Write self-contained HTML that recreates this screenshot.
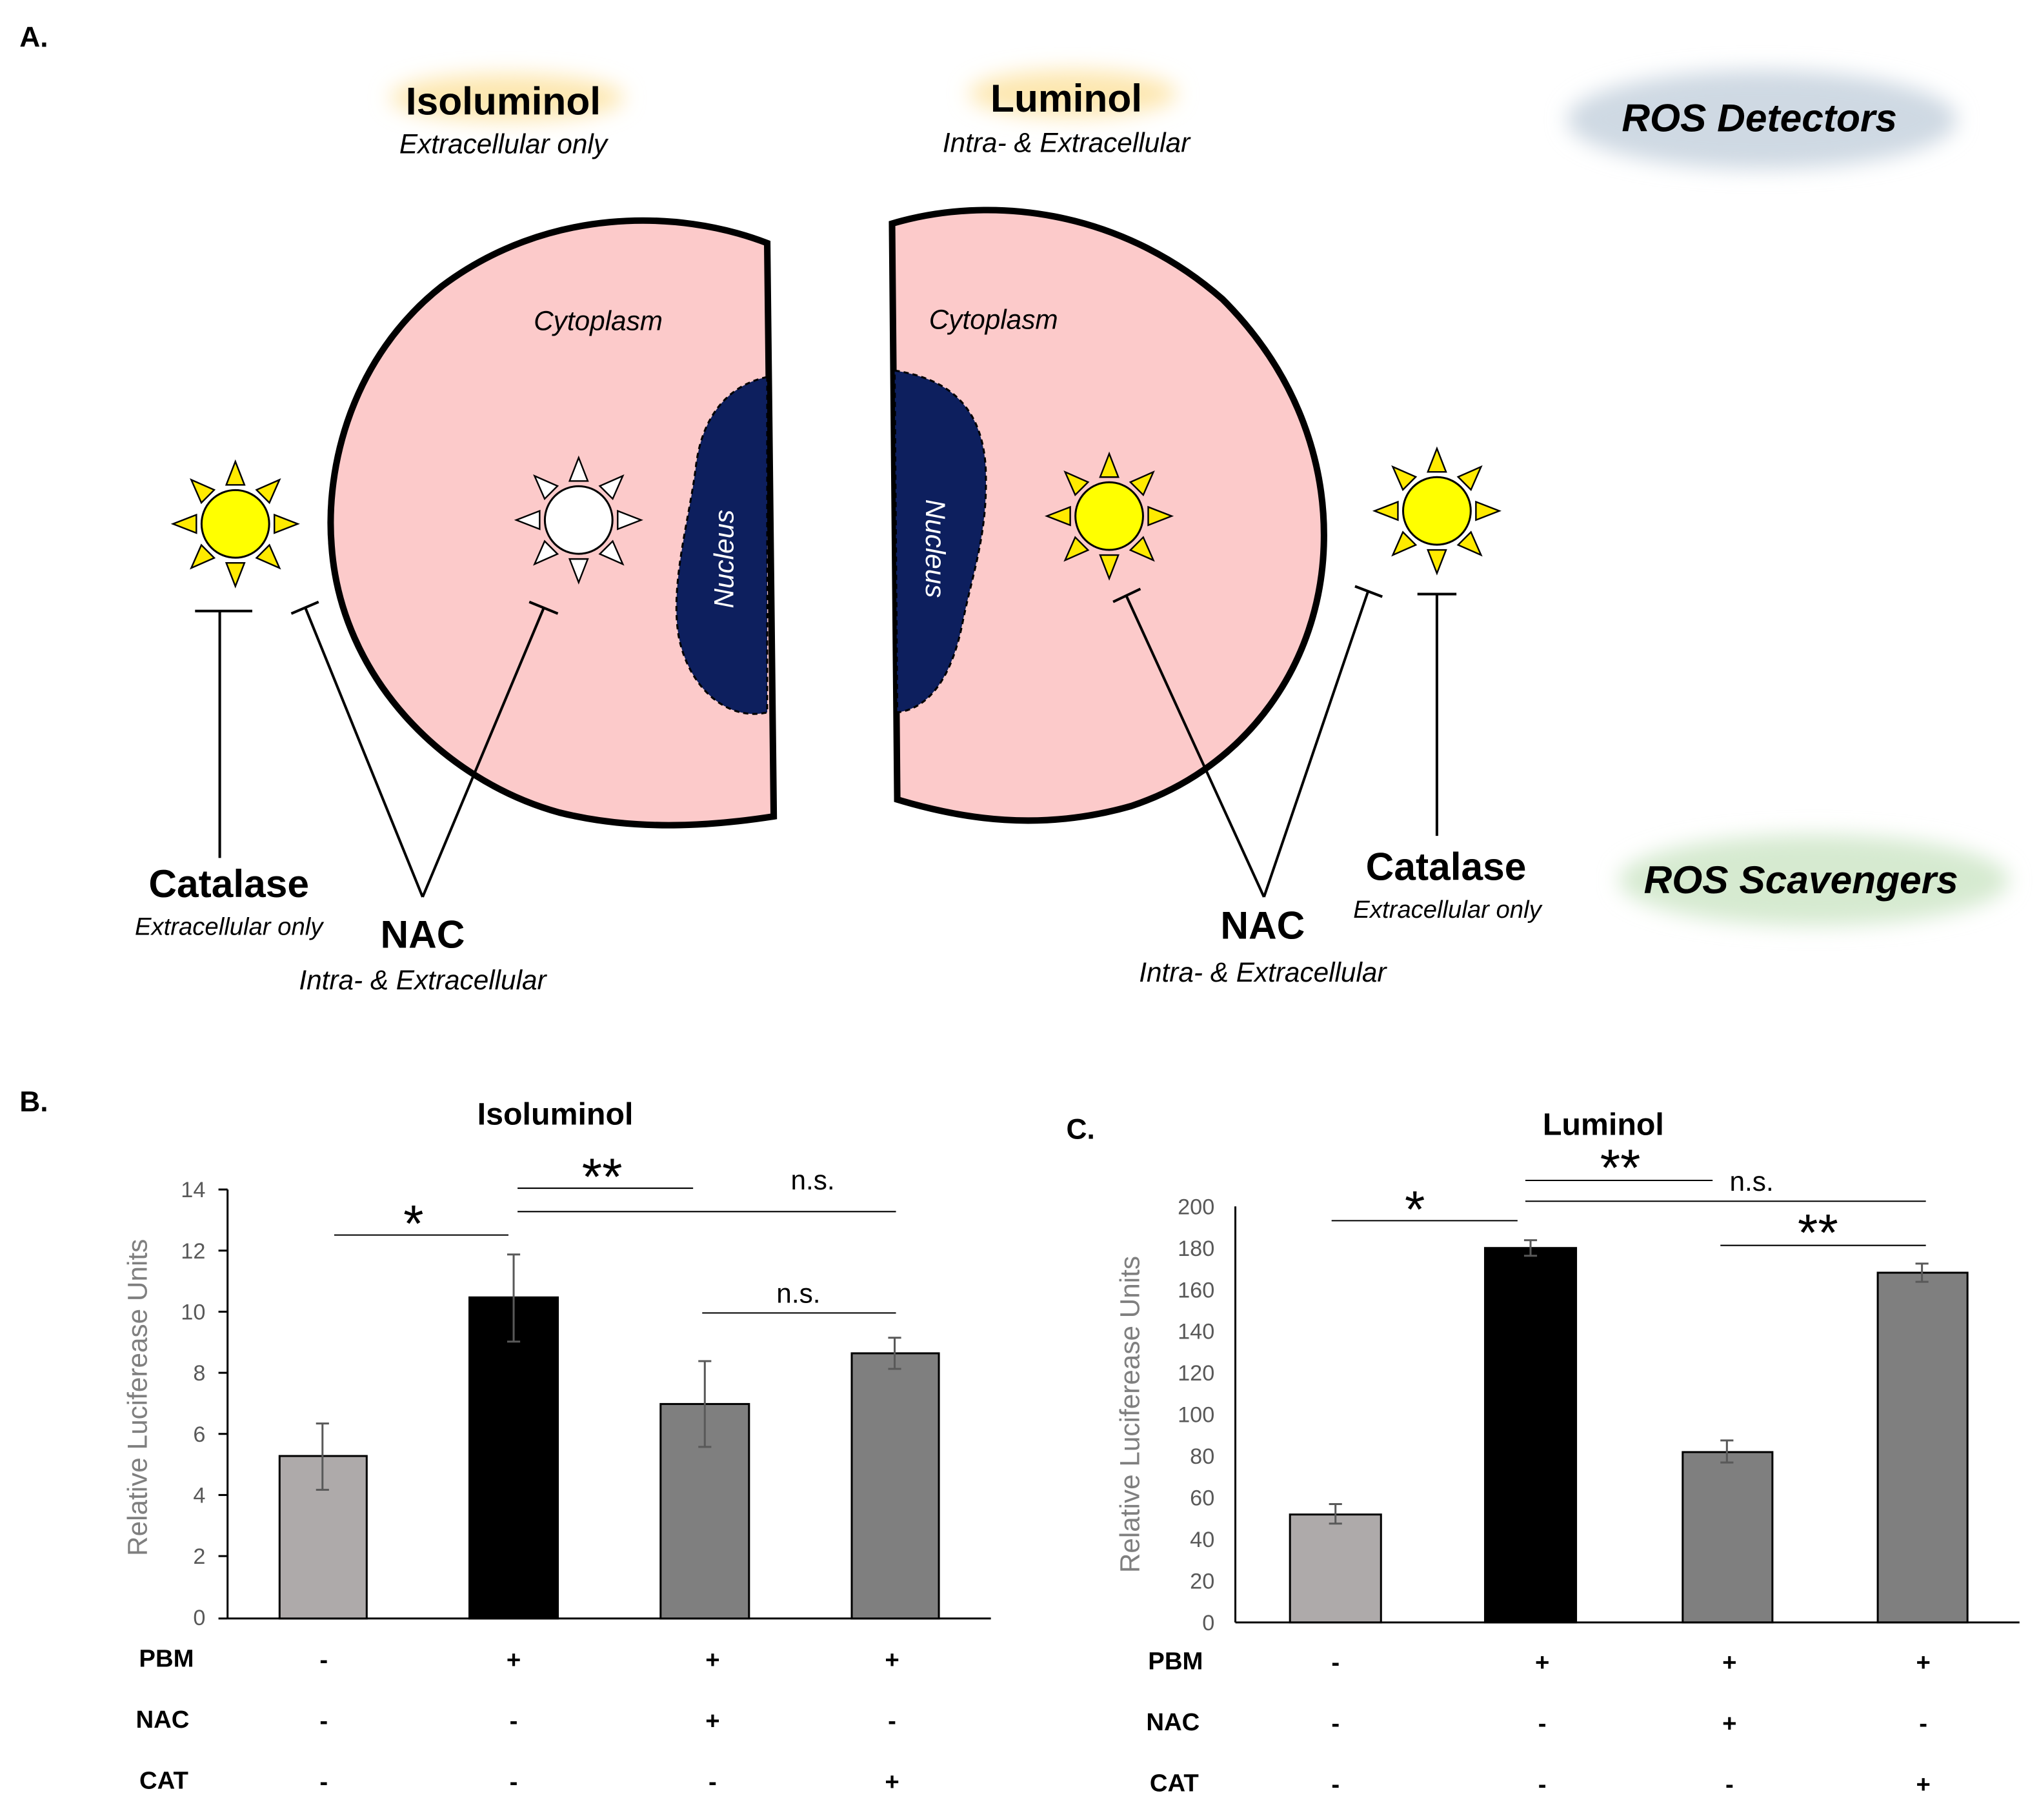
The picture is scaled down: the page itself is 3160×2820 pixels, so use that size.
<!DOCTYPE html>
<html><head><meta charset="utf-8"><style>
html,body{margin:0;padding:0;background:#fff}
svg{display:block}
text{font-family:"Liberation Sans",Arial,sans-serif}
.it{font-style:italic}
.b{font-weight:bold}
</style></head><body>
<svg width="3160" height="2820" viewBox="0 0 1568 1400" preserveAspectRatio="none" xmlns="http://www.w3.org/2000/svg">
<defs>
<filter id="blur" x="-20%" y="-50%" width="140%" height="200%"><feGaussianBlur stdDeviation="8"/></filter>
<g id="rays">
 <polygon points="-7,-30 7,-30 0,-48"/>
 <polygon points="-7,30 7,30 0,48"/>
 <polygon points="-30,-7 -30,7 -48,0"/>
 <polygon points="30,-7 30,7 48,0"/>
 <g transform="rotate(45)"><polygon points="-7,-30 7,-30 0,-48"/><polygon points="-7,30 7,30 0,48"/><polygon points="-30,-7 -30,7 -48,0"/><polygon points="30,-7 30,7 48,0"/></g>
</g>
</defs>
<text x="15" y="36" font-size="22" class="b">A.</text>
<ellipse cx="390" cy="75" rx="90" ry="18" fill="#fde7b0" filter="url(#blur)"/>
<ellipse cx="825" cy="72" rx="80" ry="18" fill="#fde7b0" filter="url(#blur)"/>
<ellipse cx="1355" cy="92" rx="150" ry="38" fill="#cfd9e3" filter="url(#blur)"/>
<ellipse cx="1395" cy="677" rx="150" ry="35" fill="#d6ead0" filter="url(#blur)"/>
<text x="387" y="88" font-size="30" class="b" text-anchor="middle">Isoluminol</text>
<text x="387" y="118" font-size="21" class="it" text-anchor="middle">Extracellular only</text>
<text x="820" y="86" font-size="30" class="b" text-anchor="middle">Luminol</text>
<text x="820" y="117" font-size="21" class="it" text-anchor="middle">Intra- &amp; Extracellular</text>
<text x="1353" y="101" font-size="30" class="b it" text-anchor="middle">ROS Detectors</text>
<text x="1385" y="687" font-size="30" class="b it" text-anchor="middle">ROS Scavengers</text>
<path d="M590,187 C520,160 420,160 340,220 C270,275 250,360 255,420 C262,520 340,600 430,625 C490,640 550,635 595,628 Z" fill="#fccaca" stroke="#000" stroke-width="5"/>
<path d="M686,172 C760,150 860,160 940,230 C1000,290 1020,360 1018,420 C1015,510 960,590 870,620 C800,640 740,630 690,615 Z" fill="#fccaca" stroke="#000" stroke-width="5"/>
<path d="M590,290 C565,295 540,315 535,360 C530,400 515,450 522,490 C530,530 560,555 590,548 Z" fill="#0d1f5e" stroke="#000" stroke-width="1.5" stroke-dasharray="4,3"/>
<path d="M688,285 C720,290 755,305 758,360 C760,410 748,440 740,480 C732,520 715,545 690,548 Z" fill="#0d1f5e" stroke="#000" stroke-width="1.5" stroke-dasharray="4,3"/>
<text transform="translate(564,430) rotate(-90)" font-size="21" class="it" fill="#fff" text-anchor="middle">Nucleus</text>
<text transform="translate(712,422) rotate(90)" font-size="21" class="it" fill="#fff" text-anchor="middle">Nucleus</text>
<text x="460" y="254" font-size="21" class="it" text-anchor="middle">Cytoplasm</text>
<text x="764" y="253" font-size="21" class="it" text-anchor="middle">Cytoplasm</text>
<g transform="translate(181,403)"><use href="#rays" fill="#ffea00" stroke="#000" stroke-width="1.2"/><circle r="26" fill="#ffff00" stroke="#000" stroke-width="1.5"/></g>
<g transform="translate(445,400)"><use href="#rays" fill="#fff" stroke="#000" stroke-width="1.2"/><circle r="26" fill="#fff" stroke="#000" stroke-width="1.5"/></g>
<g transform="translate(853,397)"><use href="#rays" fill="#ffea00" stroke="#000" stroke-width="1.2"/><circle r="26" fill="#ffff00" stroke="#000" stroke-width="1.5"/></g>
<g transform="translate(1105,393)"><use href="#rays" fill="#ffea00" stroke="#000" stroke-width="1.2"/><circle r="26" fill="#ffff00" stroke="#000" stroke-width="1.5"/></g>
<g stroke="#000" stroke-width="2" fill="none">
<line x1="169" y1="470" x2="169" y2="660"/><line x1="150" y1="470" x2="194" y2="470"/>
<line x1="325" y1="690" x2="235" y2="468"/><line x1="224" y1="472" x2="245" y2="463"/>
<line x1="325" y1="690" x2="418" y2="468"/><line x1="407" y1="463" x2="429" y2="472"/>
<line x1="972" y1="690" x2="866" y2="458"/><line x1="856" y1="463" x2="877" y2="453"/>
<line x1="972" y1="690" x2="1052" y2="455"/><line x1="1042" y1="451" x2="1063" y2="459"/>
<line x1="1105" y1="457" x2="1105" y2="643"/><line x1="1090" y1="457" x2="1120" y2="457"/>
</g>
<text x="176" y="690" font-size="30" class="b" text-anchor="middle">Catalase</text>
<text x="176" y="719" font-size="19" class="it" text-anchor="middle">Extracellular only</text>
<text x="325" y="729" font-size="30" class="b" text-anchor="middle">NAC</text>
<text x="325" y="761" font-size="21" class="it" text-anchor="middle">Intra- &amp; Extracellular</text>
<text x="1112" y="677" font-size="30" class="b" text-anchor="middle">Catalase</text>
<text x="1113" y="706" font-size="19" class="it" text-anchor="middle">Extracellular only</text>
<text x="971" y="722" font-size="30" class="b" text-anchor="middle">NAC</text>
<text x="971" y="755" font-size="21" class="it" text-anchor="middle">Intra- &amp; Extracellular</text>

<text x="15" y="855" font-size="22" class="b">B.</text>
<text x="427" y="865" font-size="24" class="b" text-anchor="middle">Isoluminol</text>
<g font-size="17" fill="#595959" text-anchor="end">
<text x="158" y="921">14</text><text x="158" y="968">12</text><text x="158" y="1015">10</text><text x="158" y="1062">8</text><text x="158" y="1109">6</text><text x="158" y="1156">4</text><text x="158" y="1203">2</text><text x="158" y="1250">0</text>
</g>
<text transform="translate(113,1075) rotate(-90)" font-size="21" fill="#7f7f7f" text-anchor="middle">Relative Luciferease Units</text>
<g stroke="#000" stroke-width="1.5">
<line x1="175" y1="915" x2="175" y2="1245"/><line x1="175" y1="1245" x2="762" y2="1245"/>
<line x1="168" y1="915" x2="175" y2="915"/><line x1="168" y1="962" x2="175" y2="962"/><line x1="168" y1="1009" x2="175" y2="1009"/><line x1="168" y1="1056" x2="175" y2="1056"/><line x1="168" y1="1103" x2="175" y2="1103"/><line x1="168" y1="1150" x2="175" y2="1150"/><line x1="168" y1="1197" x2="175" y2="1197"/><line x1="168" y1="1245" x2="175" y2="1245"/>
</g>
<g stroke="#000" stroke-width="1.5">
<rect x="215" y="1120" width="67" height="125" fill="#aeaaaa"/>
<rect x="361" y="998" width="68" height="247" fill="#000"/>
<rect x="508" y="1080" width="68" height="165" fill="#7f7f7f"/>
<rect x="655" y="1041" width="67" height="204" fill="#7f7f7f"/>
</g>
<g stroke="#595959" stroke-width="1.5">
<line x1="248" y1="1095" x2="248" y2="1146"/><line x1="243" y1="1095" x2="253" y2="1095"/><line x1="243" y1="1146" x2="253" y2="1146"/>
<line x1="395" y1="965" x2="395" y2="1032"/><line x1="390" y1="965" x2="400" y2="965"/><line x1="390" y1="1032" x2="400" y2="1032"/>
<line x1="542" y1="1047" x2="542" y2="1113"/><line x1="537" y1="1047" x2="547" y2="1047"/><line x1="537" y1="1113" x2="547" y2="1113"/>
<line x1="688" y1="1029" x2="688" y2="1053"/><line x1="683" y1="1029" x2="693" y2="1029"/><line x1="683" y1="1053" x2="693" y2="1053"/>
</g>
<g stroke="#000" stroke-width="1">
<line x1="257" y1="950" x2="391" y2="950"/>
<line x1="398" y1="914" x2="533" y2="914"/>
<line x1="398" y1="932" x2="689" y2="932"/>
<line x1="540" y1="1010" x2="689" y2="1010"/>
</g>
<text x="318" y="955" font-size="40" text-anchor="middle">*</text>
<text x="463" y="919" font-size="40" text-anchor="middle">**</text>
<text x="625" y="915" font-size="21" text-anchor="middle">n.s.</text>
<text x="614" y="1002" font-size="21" text-anchor="middle">n.s.</text>
<g font-size="19" class="b" text-anchor="middle">
<text x="128" y="1282">PBM</text><text x="125" y="1329">NAC</text><text x="126" y="1376">CAT</text>
<text x="249" y="1283">-</text><text x="395" y="1283">+</text><text x="548" y="1283">+</text><text x="686" y="1283">+</text>
<text x="249" y="1330">-</text><text x="395" y="1330">-</text><text x="548" y="1330">+</text><text x="686" y="1330">-</text>
<text x="249" y="1377">-</text><text x="395" y="1377">-</text><text x="548" y="1377">-</text><text x="686" y="1377">+</text>
</g>

<text x="820" y="876" font-size="22" class="b">C.</text>
<text x="1233" y="873" font-size="24" class="b" text-anchor="middle">Luminol</text>
<g font-size="17" fill="#595959" text-anchor="end">
<text x="934" y="934">200</text><text x="934" y="966">180</text><text x="934" y="998">160</text><text x="934" y="1030">140</text><text x="934" y="1062">120</text><text x="934" y="1094">100</text><text x="934" y="1126">80</text><text x="934" y="1158">60</text><text x="934" y="1190">40</text><text x="934" y="1222">20</text><text x="934" y="1254">0</text>
</g>
<text transform="translate(876,1088) rotate(-90)" font-size="21" fill="#7f7f7f" text-anchor="middle">Relative Luciferease Units</text>
<g stroke="#000" stroke-width="1.5">
<line x1="950" y1="928" x2="950" y2="1248"/><line x1="950" y1="1248" x2="1553" y2="1248"/>
</g>
<g stroke="#000" stroke-width="1.5">
<rect x="992" y="1165" width="70" height="83" fill="#aeaaaa"/>
<rect x="1142" y="960" width="70" height="288" fill="#000"/>
<rect x="1294" y="1117" width="69" height="131" fill="#7f7f7f"/>
<rect x="1444" y="979" width="69" height="269" fill="#7f7f7f"/>
</g>
<g stroke="#595959" stroke-width="1.5">
<line x1="1027" y1="1157" x2="1027" y2="1172"/><line x1="1022" y1="1157" x2="1032" y2="1157"/><line x1="1022" y1="1172" x2="1032" y2="1172"/>
<line x1="1177" y1="954" x2="1177" y2="966"/><line x1="1172" y1="954" x2="1182" y2="954"/><line x1="1172" y1="966" x2="1182" y2="966"/>
<line x1="1328" y1="1108" x2="1328" y2="1125"/><line x1="1323" y1="1108" x2="1333" y2="1108"/><line x1="1323" y1="1125" x2="1333" y2="1125"/>
<line x1="1478" y1="972" x2="1478" y2="986"/><line x1="1473" y1="972" x2="1483" y2="972"/><line x1="1473" y1="986" x2="1483" y2="986"/>
</g>
<g stroke="#000" stroke-width="1">
<line x1="1024" y1="939" x2="1167" y2="939"/>
<line x1="1173" y1="908" x2="1317" y2="908"/>
<line x1="1173" y1="924" x2="1481" y2="924"/>
<line x1="1323" y1="958" x2="1481" y2="958"/>
</g>
<text x="1088" y="944" font-size="40" text-anchor="middle">*</text>
<text x="1246" y="912" font-size="40" text-anchor="middle">**</text>
<text x="1347" y="916" font-size="21" text-anchor="middle">n.s.</text>
<text x="1398" y="962" font-size="40" text-anchor="middle">**</text>
<g font-size="19" class="b" text-anchor="middle">
<text x="904" y="1284">PBM</text><text x="902" y="1331">NAC</text><text x="903" y="1378">CAT</text>
<text x="1027" y="1285">-</text><text x="1186" y="1285">+</text><text x="1330" y="1285">+</text><text x="1479" y="1285">+</text>
<text x="1027" y="1332">-</text><text x="1186" y="1332">-</text><text x="1330" y="1332">+</text><text x="1479" y="1332">-</text>
<text x="1027" y="1379">-</text><text x="1186" y="1379">-</text><text x="1330" y="1379">-</text><text x="1479" y="1379">+</text>
</g>
</svg>
</body></html>
